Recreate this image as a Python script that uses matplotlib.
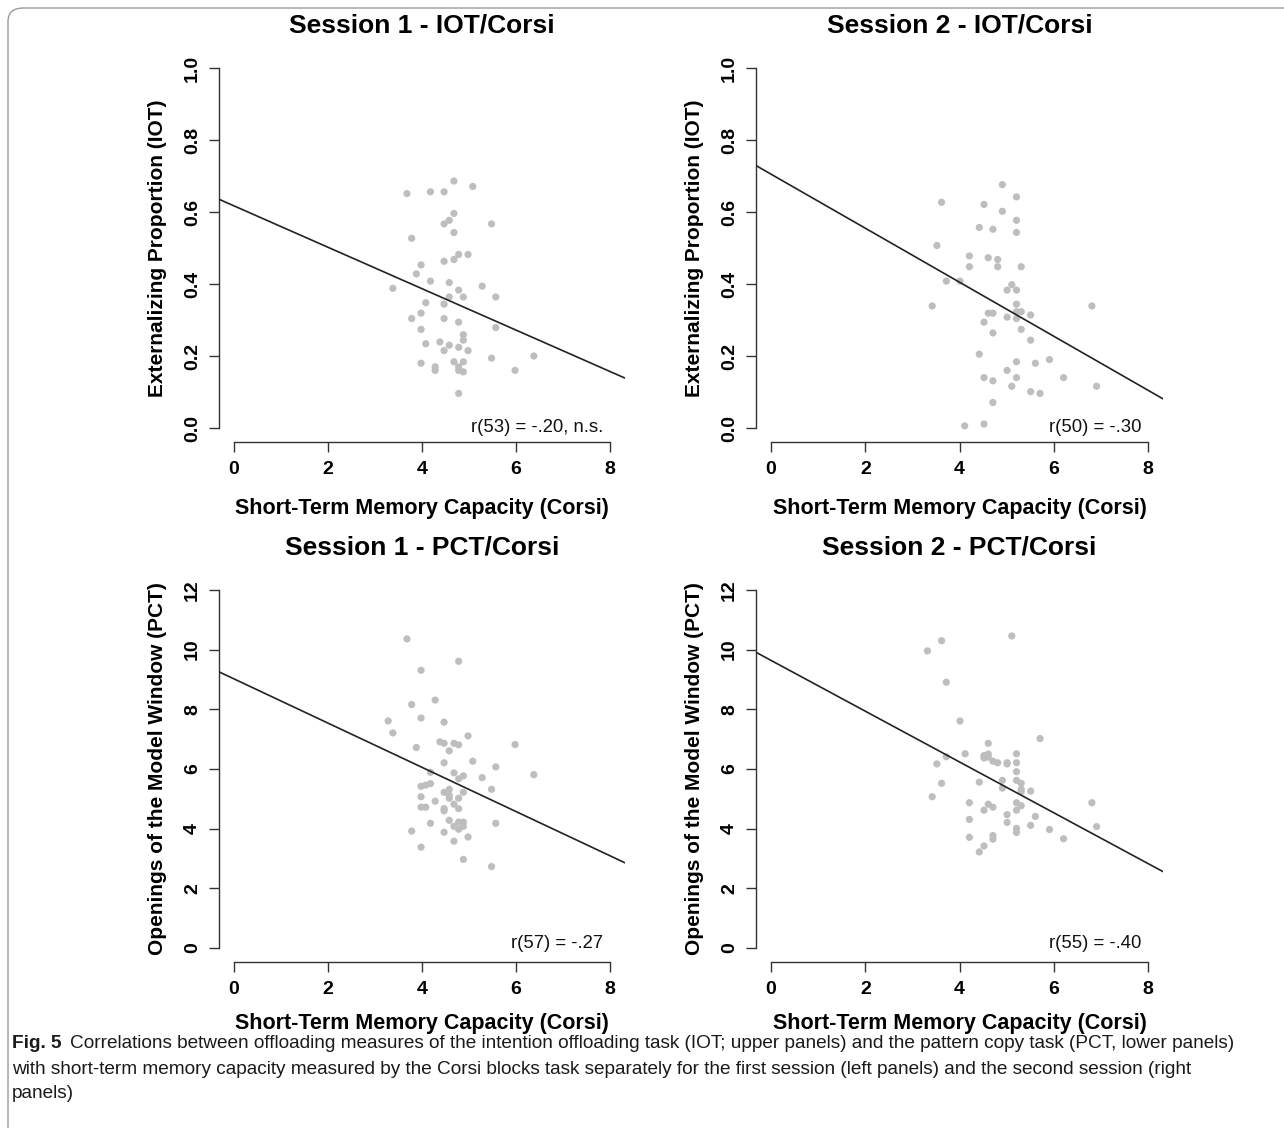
import matplotlib
matplotlib.use("Agg")
import matplotlib.pyplot as plt
from matplotlib.patches import FancyBboxPatch
import numpy as np

# ---------------- data ----------------
# Session 1 - IOT/Corsi
s1_iot_corsi = [4.68, 5.08, 3.68, 4.18, 4.47, 4.68, 4.58, 4.47, 5.48, 4.68, 3.78, 4.78, 4.98,
                4.68, 4.47, 3.98, 3.88, 4.18, 4.58, 3.38, 5.28, 4.78, 4.58, 4.88, 5.57, 4.08,
                4.47, 3.98, 3.78, 4.47, 4.78, 5.57, 3.98, 4.88, 4.88, 4.08, 4.38, 4.58, 4.78,
                4.47, 4.98, 6.38, 5.48, 3.98, 4.68, 4.88, 4.28, 4.28, 4.78, 4.78, 4.88, 5.98,
                4.78]
s1_iot_prop = [0.686, 0.671, 0.651, 0.656, 0.656, 0.596, 0.577, 0.567, 0.567, 0.543, 0.527,
               0.482, 0.482, 0.468, 0.463, 0.453, 0.428, 0.408, 0.404, 0.388, 0.394, 0.383,
               0.364, 0.364, 0.364, 0.348, 0.344, 0.319, 0.304, 0.304, 0.294, 0.279, 0.274,
               0.259, 0.244, 0.234, 0.239, 0.230, 0.224, 0.215, 0.215, 0.200, 0.194, 0.180,
               0.184, 0.184, 0.170, 0.160, 0.170, 0.160, 0.156, 0.160, 0.096]

# Session 2 - IOT/Corsi
s2_iot_corsi = [4.91, 5.21, 3.62, 4.52, 4.91, 5.21, 4.42, 4.71, 5.21, 3.52, 4.21, 4.61, 4.81,
                4.21, 4.81, 5.31, 3.72, 4.01, 5.11, 5.01, 5.21, 3.42, 6.81, 5.21, 4.61, 4.71,
                5.21, 5.31, 5.51, 5.01, 5.21, 4.52, 5.31, 4.71, 5.51, 4.42, 5.21, 5.61, 5.91,
                5.01, 4.52, 4.71, 5.21, 6.21, 5.11, 6.91, 5.51, 5.71, 4.71, 4.11, 4.52]
s2_iot_prop = [0.676, 0.642, 0.627, 0.621, 0.602, 0.577, 0.557, 0.552, 0.543, 0.507, 0.478,
               0.473, 0.468, 0.448, 0.448, 0.448, 0.408, 0.408, 0.398, 0.383, 0.383, 0.339,
               0.339, 0.344, 0.319, 0.319, 0.323, 0.323, 0.314, 0.308, 0.304, 0.294, 0.274,
               0.264, 0.244, 0.205, 0.184, 0.180, 0.190, 0.160, 0.140, 0.131, 0.140, 0.140,
               0.116, 0.116, 0.101, 0.096, 0.071, 0.006, 0.011]

# Session 1 - PCT/Corsi
s1_pct_corsi = [3.68, 4.78, 3.98, 4.28, 3.78, 3.98, 3.28, 4.47, 3.38, 4.98, 5.98, 4.38, 4.47,
                4.68, 4.78, 3.88, 4.58,
                4.47, 5.08, 5.57, 6.38, 4.18, 4.68, 4.88, 4.78, 5.28, 3.98, 4.08, 4.18, 4.47,
                4.58, 4.58, 4.58, 4.88, 5.48, 3.98, 4.78, 4.28, 4.68, 3.98, 4.08, 4.47, 4.47,
                4.78, 4.58, 4.78, 4.88, 4.18, 5.57, 4.68, 4.88, 4.78, 3.78, 4.47, 4.98, 4.68,
                3.98, 4.88, 5.48]
s1_pct_open = [10.36, 9.61, 9.31, 8.31, 8.16, 7.71, 7.61, 7.57, 7.21, 7.11, 6.82, 6.91, 6.86,
               6.86, 6.81, 6.72, 6.61,
               6.21, 6.26, 6.07, 5.81, 5.89, 5.87, 5.77, 5.67, 5.71, 5.42, 5.46, 5.51, 5.22,
               5.32, 5.12, 5.02, 5.22, 5.32, 5.07, 5.02, 4.92, 4.82, 4.72, 4.72, 4.67, 4.60,
               4.67, 4.28, 4.22, 4.22, 4.18, 4.18, 4.08, 4.08, 3.98, 3.92, 3.88, 3.72, 3.58,
               3.38, 2.97, 2.73]

# Session 2 - PCT/Corsi
s2_pct_corsi = [5.11, 3.62, 3.32, 3.72, 4.01, 5.71, 4.61, 5.21, 4.12, 4.52, 4.61, 4.52, 4.61,
                3.72,
                3.52, 4.71, 4.81, 5.01, 5.01, 5.21, 5.21, 3.62, 4.42, 4.91, 4.91, 5.21, 5.31,
                5.31, 5.31, 5.51, 3.42, 4.21, 4.61, 4.71, 4.52, 5.21, 5.31, 5.21, 6.81, 5.01,
                5.61, 4.21, 5.01, 5.51, 6.91, 5.21, 5.21, 5.91, 4.21, 4.71, 4.71, 6.21, 4.52,
                4.42]
s2_pct_open = [10.46, 10.30, 9.96, 8.91, 7.61, 7.02, 6.86, 6.51, 6.51, 6.45, 6.50, 6.37, 6.40,
               6.41,
               6.17, 6.26, 6.21, 6.17, 6.21, 6.21, 5.91, 5.52, 5.56, 5.62, 5.36, 5.62, 5.52,
               5.32, 5.24, 5.26, 5.07, 4.87, 4.82, 4.72, 4.62, 4.87, 4.77, 4.62, 4.87, 4.47,
               4.41, 4.31, 4.21, 4.11, 4.07, 4.01, 3.87, 3.97, 3.71, 3.77, 3.65, 3.66, 3.42,
               3.22]

# regression lines (intercept, slope)
fit_intercepts = [0.617, 0.705, 9.02, 9.64]
fit_slopes = [-0.0575, -0.075, -0.741, -0.851]

titles = ["Session 1 - IOT/Corsi", "Session 2 - IOT/Corsi",
          "Session 1 - PCT/Corsi", "Session 2 - PCT/Corsi"]
ylabels = ["Externalizing Proportion (IOT)", "Externalizing Proportion (IOT)",
           "Openings of the Model Window (PCT)", "Openings of the Model Window (PCT)"]
xlabel = "Short-Term Memory Capacity (Corsi)"
r_labels = ["r(53) = -.20, n.s.", "r(50) = -.30", "r(57) = -.27", "r(55) = -.40"]
x_ticks = [0, 2, 4, 6, 8]
y_ticks_iot = [0.0, 0.2, 0.4, 0.6, 0.8, 1.0]
y_ticks_pct = [0, 2, 4, 6, 8, 10, 12]
caption_bold = "Fig. 5"
caption_lines = [
    "Correlations between offloading measures of the intention offloading task (IOT; upper panels) and the pattern copy task (PCT, lower panels)",
    "with short-term memory capacity measured by the Corsi blocks task separately for the first session (left panels) and the second session (right",
    "panels)",
]

# ---------------- figure ----------------
W, H = 1284, 1128
fig = plt.figure(figsize=(W / 100, H / 100), dpi=100)
plt.rcParams['font.family'] = ['Liberation Sans', 'DejaVu Sans']

# rounded border frame (only top-left corner visible)
frame = FancyBboxPatch((8 / W, -0.2), 1.3, 1.2 - 8 / H,
                       boxstyle="round,pad=0,rounding_size=0.012",
                       transform=fig.transFigure, fill=False, lw=1.0,
                       ec="#9a9a9a", clip_on=False)
fig.patches.append(frame)


def axpos(l, r, t, b):
    return [l / W, 1 - b / H, (r - l) / W, (b - t) / H]


positions = [axpos(219, 625, 53.6, 442.4), axpos(756, 1163, 53.6, 442.4),
             axpos(219, 625, 575.7, 962.3), axpos(756, 1163, 575.7, 962.3)]
xs = [s1_iot_corsi, s2_iot_corsi, s1_pct_corsi, s2_pct_corsi]
ys = [s1_iot_prop, s2_iot_prop, s1_pct_open, s2_pct_open]

for i in range(4):
    ax = fig.add_axes(positions[i])
    iot = i < 2
    yt = y_ticks_iot if iot else y_ticks_pct
    ymax = yt[-1]
    ax.set_xlim(-0.04 * 8, 8 * 1.04)
    ax.set_ylim(-0.04 * ymax, ymax * 1.04)
    ax.scatter(xs[i], ys[i], s=27, color="#bebebe", edgecolors="none", zorder=2)
    ax.axline((0, fit_intercepts[i]), slope=fit_slopes[i], color="#222222", lw=1.2, zorder=3)
    for side in ["top", "right"]:
        ax.spines[side].set_visible(False)
    ax.spines["left"].set_bounds(0, ymax)
    ax.spines["bottom"].set_bounds(0, 8)
    for side in ["left", "bottom"]:
        ax.spines[side].set_linewidth(1.0)
        ax.spines[side].set_color("#333333")
    ax.set_xticks(x_ticks)
    ax.set_xticklabels([str(v) for v in x_ticks])
    ax.set_yticks(yt)
    ax.set_yticklabels([f"{v:.1f}" for v in yt] if iot else [str(v) for v in yt],
                       rotation=90, va="center")
    ax.tick_params(length=7, width=1.0, color="#333333", labelsize=14)
    ax.tick_params(axis="x", pad=6.5)
    ax.tick_params(axis="y", pad=6)
    for lab in ax.get_xticklabels() + ax.get_yticklabels():
        lab.set_fontweight("bold")
    ax.set_title(titles[i], fontsize=19, fontweight="bold", pad=15)
    ax.set_xlabel(xlabel, fontsize=15.5, fontweight="bold", labelpad=14 if iot else 11)
    ax.set_ylabel(ylabels[i], fontsize=15, fontweight="bold", labelpad=12)
    ax.text(7.86, 0 if iot else 0.15, r_labels[i], ha="right", va="center",
            fontsize=13.3, color="#111111")

# caption
cap_family = ['Liberation Sans', 'DejaVu Sans']
fs_cap = 13.7
cap_y = [1044, 1069, 1094]
t0 = fig.text(12 / W, 1 - cap_y[0] / H, caption_bold, fontsize=fs_cap, fontweight="bold",
              family=cap_family, va="center", ha="left", color="#1a1a1a")
fig.canvas.draw()
bb = t0.get_window_extent()
fig.text((bb.x1 + 9) / W, 1 - cap_y[0] / H, caption_lines[0], fontsize=fs_cap,
         family=cap_family, va="center", ha="left", color="#1a1a1a")
fig.text(12 / W, 1 - cap_y[1] / H, caption_lines[1], fontsize=fs_cap,
         family=cap_family, va="center", ha="left", color="#1a1a1a")
fig.text(12 / W, 1 - cap_y[2] / H, caption_lines[2], fontsize=fs_cap,
         family=cap_family, va="center", ha="left", color="#1a1a1a")

fig.savefig("out.png", dpi=100)
